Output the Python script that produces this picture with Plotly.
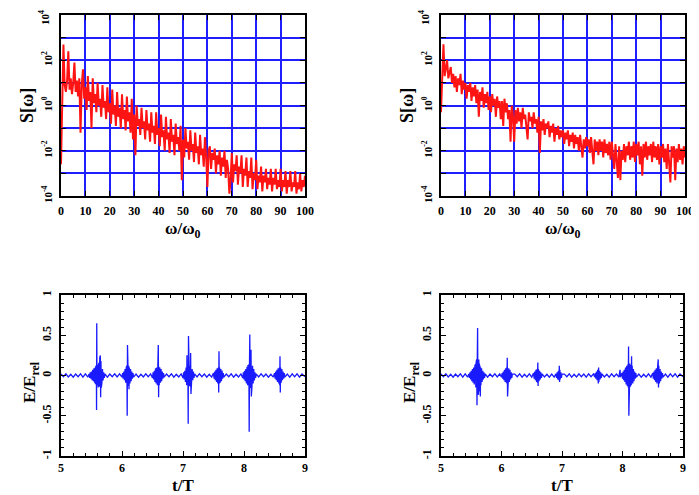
import numpy as np
import plotly.graph_objects as go

# ---------------- data ----------------
# frequency grid (omega / omega_0), step 0.5
omega = np.linspace(0, 100, 201)

# log10 of spectrum S[omega], left panel
log10_S_left = [
    -2.6, 1.0, 2.7, 0.9, 0.6, 1.1, 2.4, 0.7, 1.2, 0.5,
    1.0, 1.9, 0.6, 1.1, 0.4, 1.2, -1.2, 0.9, 1.6, 0.3,
    0.8, -0.2, 1.3, 0.2, 0.6, -1.0, 1.2, 0.1, 0.5, -0.3,
    1.0, 0.0, 0.3, -0.5, 0.9, -0.1, 0.2, -0.6, 0.8, -0.3,
    0.1, -0.8, 0.7, -0.4, 0.0, -0.9, 0.6, -0.5, -0.1, -1.0,
    0.5, -0.6, -0.2, -1.1, 0.4, -0.7, -0.3, -1.2, 0.3, -1.5,
    -0.4, -2.2, 0.0, -0.9, -0.6, -1.3, -0.1, -1.0, -0.7, -1.5,
    -0.2, -1.1, -0.8, -1.6, -0.3, -1.2, -0.9, -1.7, -0.3, -1.3,
    -1.0, -1.8, -0.4, -1.4, -1.1, -2.0, -0.5, -1.5, -1.2, -2.1,
    -0.6, -1.6, -1.3, -2.2, -0.8, -1.7, -1.4, -2.0, -0.9, -3.3,
    -1.5, -2.3, -1.0, -1.9, -1.6, -2.4, -1.1, -2.0, -1.7, -2.5,
    -1.2, -2.1, -1.8, -2.6, -1.3, -2.2, -1.9, -2.7, -1.4, -2.3,
    -3.6, -2.0, -1.8, -2.8, -2.1, -2.4, -1.9, -3.0, -2.2, -2.6,
    -2.0, -3.1, -2.3, -2.7, -2.0, -3.2, -2.4, -2.8, -3.9, -3.3,
    -2.1, -3.4, -2.6, -2.9, -2.2, -3.5, -2.7, -3.0, -2.2, -3.6,
    -2.8, -3.1, -2.3, -3.6, -2.9, -3.2, -2.3, -3.7, -3.0, -3.3,
    -2.4, -3.7, -3.1, -3.4, -2.7, -3.8, -3.1, -3.4, -2.8, -3.7,
    -3.2, -3.5, -2.8, -3.8, -3.2, -3.5, -2.8, -3.7, -3.3, -3.6,
    -2.8, -3.8, -3.3, -3.6, -2.9, -3.9, -3.3, -3.6, -2.9, -3.8,
    -3.4, -3.6, -2.9, -3.9, -3.4, -3.7, -3.0, -3.8, -3.3, -3.6,
    -3.1,
]

# log10 of spectrum S[omega], right panel
log10_S_right = [
    -0.3, 1.4, 2.7, 1.3, 1.6, 2.0, 1.2, 1.5, 1.7, 1.0,
    1.4, 0.8, 1.3, 0.6, 1.2, 0.9, 1.4, 0.5, 1.1, 0.7,
    1.0, 0.3, 0.9, 0.6, 1.0, 0.2, 0.8, 0.4, 0.9, 0.1,
    0.7, -0.5, 0.6, 0.2, 0.8, -0.1, 0.5, 0.1, 0.6, -0.2,
    0.4, -0.3, 0.5, 0.0, 0.3, -0.5, 0.4, -0.1, 0.2, -0.6,
    0.2, -0.9, 0.3, -0.3, 0.1, -0.6, -0.2, -1.6, 0.0, -0.5,
    -1.6, -0.2, -0.8, -0.1, -0.7, -0.3, -1.0, -0.1, -0.6, -0.4,
    -0.9, -1.5, -0.3, -0.7, -0.5, -1.0, -0.3, -0.8, -0.6, -1.2,
    -0.5, -2.1, -0.7, -1.1, -0.6, -1.3, -0.8, -1.0, -0.7, -1.4,
    -0.9, -1.2, -0.8, -1.6, -1.0, -1.3, -0.9, -1.5, -1.1, -1.4,
    -1.1, -1.7, -1.2, -1.5, -1.1, -1.8, -1.3, -1.6, -1.2, -1.9,
    -1.3, -1.7, -1.4, -2.0, -1.3, -1.8, -2.3, -1.5, -1.9, -1.4,
    -1.8, -1.5, -2.1, -1.4, -1.9, -2.6, -1.5, -2.0, -1.6, -2.2,
    -1.5, -2.0, -1.6, -2.3, -1.5, -2.1, -1.7, -2.2, -1.6, -2.4,
    -1.6, -2.2, -2.8, -1.7, -2.3, -3.2, -1.8, -3.3, -2.0, -2.4,
    -1.7, -2.5, -1.8, -2.2, -1.6, -2.4, -1.8, -2.3, -1.6, -2.5,
    -1.7, -2.2, -1.6, -2.6, -1.8, -3.1, -1.7, -2.3, -1.6, -2.4,
    -1.8, -2.2, -1.7, -2.5, -1.6, -2.3, -1.8, -2.4, -1.7, -2.6,
    -1.8, -2.3, -1.7, -2.5, -1.9, -2.8, -1.7, -2.4, -3.4, -1.8,
    -2.3, -1.8, -3.3, -1.9, -2.5, -1.7, -2.4, -1.9, -2.6, -1.8,
    -2.3,
]

# time signal E/E_rel, left panel
t_left = [
    5.00, 5.04, 5.08, 5.12, 5.16, 5.20, 5.24, 5.28, 5.32, 5.36, 5.40, 5.44,
    5.46, 5.47, 5.48, 5.49, 5.50, 5.51, 5.52, 5.53, 5.54, 5.55, 5.56, 5.565, 5.57, 5.575,
    5.58, 5.583, 5.586, 5.59, 5.595, 5.60, 5.605, 5.61, 5.615, 5.62, 5.625, 5.63, 5.635,
    5.64, 5.645, 5.65, 5.655, 5.66, 5.665, 5.67, 5.68, 5.69, 5.70, 5.71, 5.72,
    5.76, 5.80, 5.84, 5.88, 5.92, 5.96,
    6.00, 6.01, 6.02, 6.03, 6.04, 6.05, 6.06, 6.07, 6.075, 6.08, 6.085, 6.09, 6.095,
    6.10, 6.105, 6.11, 6.115, 6.12, 6.13, 6.14, 6.15, 6.16, 6.17, 6.18, 6.19,
    6.23, 6.27, 6.31, 6.35, 6.39, 6.43, 6.47,
    6.50, 6.51, 6.52, 6.53, 6.54, 6.55, 6.56, 6.57, 6.58, 6.585, 6.59, 6.595, 6.60,
    6.605, 6.61, 6.62, 6.63, 6.64, 6.65, 6.66, 6.67, 6.68, 6.69,
    6.73, 6.77, 6.81, 6.85, 6.89, 6.93, 6.97,
    7.00, 7.01, 7.02, 7.03, 7.04, 7.05, 7.06, 7.065, 7.07, 7.08, 7.085, 7.09, 7.095,
    7.10, 7.105, 7.11, 7.12, 7.125, 7.13, 7.135, 7.14, 7.15, 7.16, 7.17, 7.18, 7.19,
    7.23, 7.27, 7.31, 7.35, 7.39, 7.43, 7.47,
    7.50, 7.51, 7.52, 7.53, 7.54, 7.55, 7.56, 7.57, 7.58, 7.585, 7.59, 7.595,
    7.60, 7.61, 7.62, 7.63, 7.64, 7.65, 7.66, 7.67,
    7.71, 7.75, 7.79, 7.83, 7.87, 7.91, 7.95,
    7.98, 7.99, 8.00, 8.01, 8.02, 8.03, 8.04, 8.05, 8.06, 8.065, 8.07, 8.08, 8.085,
    8.09, 8.095, 8.10, 8.105, 8.11, 8.115, 8.12, 8.125, 8.13, 8.14, 8.15, 8.16,
    8.17, 8.18, 8.19, 8.20,
    8.24, 8.28, 8.32, 8.36, 8.40, 8.44, 8.48,
    8.50, 8.51, 8.52, 8.53, 8.54, 8.55, 8.56, 8.57, 8.58, 8.585, 8.59, 8.595,
    8.60, 8.61, 8.62, 8.63, 8.64, 8.65, 8.66, 8.67,
    8.71, 8.75, 8.79, 8.83, 8.87, 8.91, 8.95, 9.00,
]
E_left = [
    0.018, -0.015, 0.02, -0.018, 0.015, -0.02, 0.018, -0.015, 0.02, -0.02, 0.02, -0.02,
    0.02, -0.03, 0.04, -0.04, 0.05, -0.06, 0.07, -0.07, 0.09, -0.09, 0.10, -0.11, 0.12, -0.10,
    0.10, -0.43, 0.65, -0.12, 0.13, -0.13, 0.12, -0.15, 0.14, -0.12, 0.16, -0.14, 0.22,
    -0.20, 0.25, -0.27, 0.18, -0.15, 0.12, -0.10, 0.08, -0.06, 0.04, -0.03, 0.02,
    -0.02, 0.018, -0.015, 0.02, -0.018, 0.02,
    -0.02, 0.03, -0.04, 0.05, -0.06, 0.08, -0.09, 0.10, -0.12, 0.12, -0.50, 0.38, -0.12,
    0.14, -0.13, 0.12, -0.17, 0.10, -0.10, 0.08, -0.07, 0.05, -0.04, 0.03, -0.02,
    0.018, -0.02, 0.015, -0.018, 0.02, -0.015, 0.02,
    -0.03, 0.04, -0.05, 0.06, -0.08, 0.09, -0.10, 0.10, -0.12, 0.12, -0.10, 0.38, -0.27,
    0.11, -0.12, 0.10, -0.09, 0.08, -0.07, 0.05, -0.04, 0.03, -0.02,
    0.018, -0.015, 0.02, -0.02, 0.015, -0.018, 0.02,
    -0.03, 0.04, -0.05, 0.06, -0.08, 0.10, -0.12, 0.25, -0.10, 0.13, -0.60, 0.49, -0.12,
    0.14, -0.13, 0.12, -0.14, 0.28, -0.23, 0.10, -0.09, 0.08, -0.06, 0.05, -0.03, 0.02,
    -0.018, 0.02, -0.015, 0.018, -0.02, 0.015, -0.02,
    0.03, -0.04, 0.05, -0.06, 0.07, -0.08, 0.09, -0.10, 0.10, -0.21, 0.30, -0.10,
    0.10, -0.09, 0.08, -0.07, 0.06, -0.04, 0.03, -0.02,
    0.018, -0.015, 0.02, -0.02, 0.015, -0.018, 0.02,
    -0.03, 0.04, -0.05, 0.06, -0.07, 0.08, -0.10, 0.11, -0.12, 0.13, -0.12, 0.14, -0.70,
    0.14, 0.51, -0.15, 0.16, -0.14, 0.32, -0.26, 0.30, -0.15, 0.12, -0.10, 0.08,
    -0.06, 0.04, -0.03, 0.02,
    -0.018, 0.02, -0.015, 0.018, -0.02, 0.015, -0.02,
    0.03, -0.04, 0.05, -0.06, 0.07, -0.08, 0.09, -0.10, 0.10, -0.12, 0.24, -0.21,
    0.10, -0.09, 0.08, -0.06, 0.05, -0.04, 0.03, -0.02,
    0.018, -0.02, 0.02, -0.015, 0.02, -0.02, 0.018, -0.015,
]

# time signal E/E_rel, right panel
t_right = [
    5.00, 5.04, 5.08, 5.12, 5.16, 5.20, 5.24, 5.28, 5.32, 5.36, 5.40, 5.44,
    5.46, 5.47, 5.48, 5.49, 5.50, 5.51, 5.52, 5.53, 5.54, 5.55, 5.56, 5.565, 5.57, 5.575,
    5.58, 5.585, 5.59, 5.595, 5.60, 5.605, 5.61, 5.615, 5.62, 5.625, 5.63, 5.635, 5.64,
    5.645, 5.65, 5.655, 5.66, 5.67, 5.68, 5.69, 5.70, 5.71, 5.72, 5.73,
    5.77, 5.81, 5.85, 5.89, 5.93, 5.97,
    6.00, 6.01, 6.02, 6.03, 6.04, 6.05, 6.06, 6.07, 6.08, 6.085, 6.09, 6.095, 6.10,
    6.105, 6.11, 6.12, 6.13, 6.14, 6.15, 6.16, 6.17, 6.18,
    6.22, 6.26, 6.30, 6.34, 6.38, 6.42, 6.46, 6.50,
    6.53, 6.54, 6.55, 6.56, 6.57, 6.58, 6.59, 6.595, 6.60, 6.605, 6.61, 6.62, 6.63,
    6.64, 6.65, 6.66, 6.67,
    6.71, 6.75, 6.79, 6.83, 6.87,
    6.90, 6.91, 6.92, 6.93, 6.94, 6.95, 6.955, 6.96, 6.965, 6.97, 6.98, 6.99, 7.00,
    7.04, 7.08, 7.12, 7.16, 7.20, 7.24, 7.28, 7.32, 7.36, 7.40, 7.44, 7.48, 7.52,
    7.54, 7.55, 7.56, 7.57, 7.58, 7.59, 7.60, 7.605, 7.61, 7.62, 7.63, 7.64, 7.65, 7.66,
    7.70, 7.74, 7.78, 7.82, 7.86, 7.90, 7.94,
    7.96, 7.965,
    7.99, 8.00, 8.01, 8.02, 8.03, 8.04, 8.05, 8.06, 8.07, 8.08, 8.09, 8.095, 8.10,
    8.105, 8.11, 8.115, 8.12, 8.13, 8.14, 8.145, 8.15, 8.155, 8.16, 8.17, 8.18,
    8.19, 8.20, 8.21, 8.22, 8.23,
    8.27, 8.31, 8.35, 8.39, 8.43, 8.47,
    8.50, 8.51, 8.52, 8.53, 8.54, 8.55, 8.56, 8.57, 8.58, 8.585, 8.59, 8.595,
    8.60, 8.61, 8.62, 8.63, 8.64, 8.65, 8.66, 8.67,
    8.71, 8.75, 8.79, 8.83, 8.87, 8.91, 8.95, 9.00,
]
E_right = [
    0.018, -0.015, 0.02, -0.018, 0.015, -0.02, 0.018, -0.015, 0.02, -0.02, 0.02, -0.02,
    0.02, -0.03, 0.04, -0.05, 0.06, -0.07, 0.08, -0.09, 0.10, -0.11, 0.12, -0.13, 0.14, -0.15,
    0.16, -0.18, 0.20, -0.37, 0.22, 0.59, -0.20, 0.18, -0.24, 0.20, -0.18, 0.15, -0.20,
    0.12, -0.26, 0.10, -0.12, 0.09, -0.08, 0.06, -0.05, 0.04, -0.03, 0.02,
    -0.02, 0.018, -0.015, 0.02, -0.018, 0.02,
    -0.02, 0.03, -0.04, 0.05, -0.06, 0.07, -0.08, 0.09, -0.09, 0.10, -0.10, 0.22, -0.26,
    0.12, -0.10, 0.09, -0.08, 0.07, -0.05, 0.04, -0.03, 0.02,
    0.018, -0.015, 0.02, -0.02, 0.015, -0.018, 0.02, -0.02,
    0.03, -0.04, 0.05, -0.06, 0.07, -0.08, 0.08, -0.09, 0.16, -0.13, 0.08, -0.07, 0.06,
    -0.05, 0.04, -0.03, 0.02,
    -0.018, 0.015, -0.02, 0.018, -0.02,
    0.02, -0.03, 0.04, -0.05, 0.06, -0.06, 0.12, -0.08, 0.07, -0.05, 0.04, -0.03, 0.02,
    0.018, -0.015, 0.02, -0.02, 0.015, -0.018, 0.02, -0.015, 0.018, -0.02, 0.02, -0.015, 0.02,
    -0.02, 0.03, -0.04, 0.05, -0.06, 0.07, -0.10, 0.10, -0.08, 0.06, -0.05, 0.04, -0.03, 0.02,
    -0.018, 0.015, -0.02, 0.02, -0.015, 0.018, -0.02,
    0.07, -0.02,
    0.03, -0.04, 0.05, -0.06, 0.07, -0.08, 0.10, -0.11, 0.12, -0.13, 0.14, -0.15, 0.36,
    -0.50, 0.20, -0.15, 0.15, -0.14, 0.13, -0.12, 0.24, -0.10, 0.12, -0.10, 0.08,
    -0.07, 0.05, -0.04, 0.03, -0.02,
    0.018, -0.02, 0.015, -0.018, 0.02, -0.02,
    0.03, -0.04, 0.05, -0.06, 0.07, -0.08, 0.09, -0.10, 0.10, -0.12, 0.20, -0.15,
    0.12, -0.10, 0.08, -0.07, 0.05, -0.04, 0.03, -0.02,
    0.018, -0.02, 0.02, -0.015, 0.02, -0.02, 0.018, -0.015,
]

# tick labels
spec_label_decades = [2, 0, -2, -4]     # labelled on the axis
spec_top_decade = 4                      # top label, drawn as a text so it stays inside the page
spec_grid_decades = [3, 1, -1, -3]
spec_xticks = [0, 10, 20, 30, 40, 50, 60, 70, 80, 90, 100]
time_xticks = [5, 6, 7, 8, 9]
time_yticks = [-1, -0.5, 0, 0.5, 1]
time_yticktext = ["-1", "-0.5", "0", "0.5", "1"]

# ---------------- figure ----------------
W, H = 699, 495
OFF = 8  # the page body adds an 8 px offset; compensate so the picture lands in place
FONT = "Liberation Serif"
RED = "#ff1414"
BLUE = "#1a1aff"
GRID = "#1e1eff"


def px_x(p):
    return (p - OFF) / W


def px_y(p):
    return 1 - (p - OFF) / H


fig = go.Figure()

fig.add_trace(go.Scatter(x=omega, y=[10 ** v for v in log10_S_left], mode="lines",
                         line=dict(color=RED, width=2), xaxis="x", yaxis="y",
                         showlegend=False))
fig.add_trace(go.Scatter(x=omega, y=[10 ** v for v in log10_S_right], mode="lines",
                         line=dict(color=RED, width=2), xaxis="x2", yaxis="y2",
                         showlegend=False))
fig.add_trace(go.Scatter(x=t_left, y=E_left, mode="lines",
                         line=dict(color=BLUE, width=1.3), xaxis="x3", yaxis="y3",
                         showlegend=False))
fig.add_trace(go.Scatter(x=t_right, y=E_right, mode="lines",
                         line=dict(color=BLUE, width=1.3), xaxis="x4", yaxis="y4",
                         showlegend=False))

tickfont = dict(family=FONT, size=12, color="black", weight="bold")
spec_ytickfont = dict(family=FONT, size=11, color="black", weight="bold")
spec_tickvals = [10.0 ** d for d in spec_label_decades]
spec_ticktext = ["10<sup>%d</sup>" % d for d in spec_label_decades]
spec_minorvals = [10.0 ** d for d in spec_grid_decades] + [10.0 ** spec_top_decade]

common_frame = dict(showline=True, linecolor="black", linewidth=1.5, mirror="ticks",
                    ticks="inside", ticklen=5, tickwidth=1.2, tickcolor="black",
                    zeroline=False, automargin=False)

left_dom = [px_x(61), px_x(305)]
right_dom = [px_x(441), px_x(685)]
right_dom_b = [px_x(441), px_x(683)]
top_dom = [px_y(196), px_y(15)]
bot_dom = [px_y(456), px_y(295)]

spec_x = dict(range=[0, 100], tickmode="array", tickvals=spec_xticks,
              showgrid=True, gridcolor=GRID, gridwidth=1.6, ticklabelstandoff=3,
              tickfont=tickfont, **common_frame)
spec_y = dict(type="log", range=[-4, 4], tickmode="array", tickvals=spec_tickvals,
              ticktext=spec_ticktext, tickangle=-90, ticklabelstandoff=3,
              tickfont=spec_ytickfont,
              showgrid=True, gridcolor=GRID, gridwidth=1.6,
              minor=dict(tickmode="array", tickvals=spec_minorvals, ticks="inside",
                         ticklen=5, tickcolor="black", showgrid=True,
                         gridcolor=GRID, gridwidth=1.6),
              **common_frame)

time_x = dict(range=[5, 9], tickmode="array", tickvals=time_xticks, showgrid=False,
              ticklabelstandoff=0, tickfont=tickfont,
              minor=dict(dtick=0.2, ticks="inside", ticklen=3, tickcolor="black",
                         showgrid=False),
              **common_frame)
time_y = dict(range=[-1, 1], tickmode="array", tickvals=time_yticks,
              ticktext=time_yticktext, tickangle=-90, showgrid=False,
              ticklabelstandoff=3, tickfont=tickfont,
              minor=dict(dtick=0.1, ticks="inside", ticklen=3, tickcolor="black",
                         showgrid=False),
              **common_frame)

fig.update_layout(
    width=W, height=H,
    margin=dict(l=0, r=0, t=0, b=0, pad=0, autoexpand=False),
    paper_bgcolor="white", plot_bgcolor="white",
    xaxis=dict(domain=left_dom, anchor="y", **spec_x),
    yaxis=dict(domain=top_dom, anchor="x", **spec_y),
    xaxis2=dict(domain=right_dom, anchor="y2", **spec_x),
    yaxis2=dict(domain=top_dom, anchor="x2", **spec_y),
    xaxis3=dict(domain=left_dom, anchor="y3", **time_x),
    yaxis3=dict(domain=bot_dom, anchor="x3", **time_y),
    xaxis4=dict(domain=right_dom_b, anchor="y4", **time_x),
    yaxis4=dict(domain=bot_dom, anchor="x4", **time_y),
)

annots = [
    # (text, x_px, y_px, angle, size)
    ("10<sup>%d</sup>" % spec_top_decade, 44, 18, -90, 11),
    ("10<sup>%d</sup>" % spec_top_decade, 424, 18, -90, 11),
    ("S[ω]", 27, 106, -90, 18),
    ("S[ω]", 407, 106, -90, 18),
    ("ω/ω<sub>0</sub>", 183, 230, 0, 17),
    ("ω/ω<sub>0</sub>", 563, 230, 0, 17),
    ("E/E<sub>rel</sub>", 31, 382, -90, 17),
    ("E/E<sub>rel</sub>", 411, 382, -90, 17),
    ("t/T", 183, 485, 0, 17),
    ("t/T", 562, 485, 0, 17),
]
for text, xp, yp, ang, size in annots:
    fig.add_annotation(text=text, x=px_x(xp), y=px_y(yp), xref="paper", yref="paper",
                       showarrow=False, textangle=ang,
                       font=dict(family=FONT, size=size, color="black", weight="bold"),
                       xanchor="center", yanchor="middle")

fig.write_html("out.html")
